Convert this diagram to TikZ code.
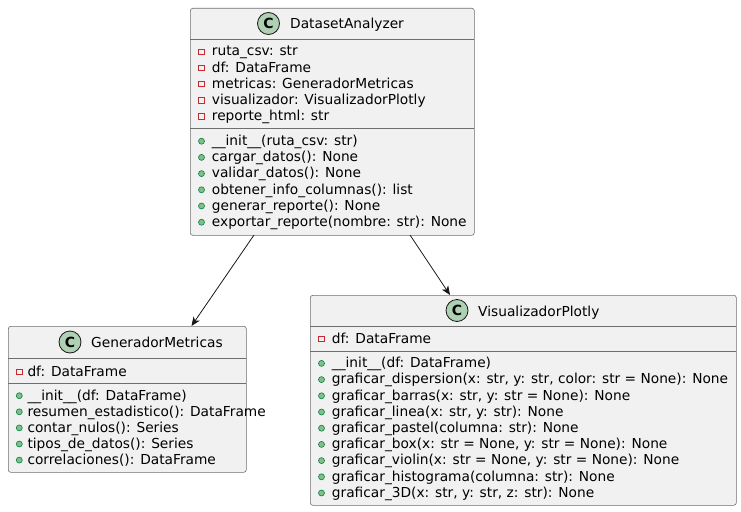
\documentclass[tikz,border=0pt]{standalone}
\usepackage{fontspec}
\setmainfont{DejaVu Sans}
\usetikzlibrary{arrows.meta}
\definecolor{boxfill}{HTML}{F1F1F1}
\definecolor{boxline}{HTML}{181818}
\definecolor{thinline}{HTML}{6E6E6E}
\definecolor{classcirc}{HTML}{ADD1B2}
\definecolor{privred}{HTML}{C82930}
\definecolor{pubfill}{HTML}{84BE84}
\definecolor{publine}{HTML}{038048}
\tikzset{
  classbox/.style={draw=thinline, fill=boxfill, line width=0.6pt, rounded corners=2.5pt, inner sep=0pt, anchor=north west},
  sepline/.style={draw=thinline, line width=0.6pt},
  member/.style={anchor=base west, inner sep=0pt, font=\fontsize{13.75}{16}\selectfont},
  privicon/.style={draw=privred, line width=0.8pt, minimum size=5.5pt, inner sep=0pt},
  pubicon/.style={circle, draw=publine, fill=pubfill, line width=0.6pt, minimum size=6pt, inner sep=0pt},
  classicon/.style={circle, draw=boxline, fill=classcirc, line width=0.8pt, minimum size=22pt, inner sep=0pt, font=\fontsize{14}{16}\selectfont\bfseries},
  assoc/.style={draw=boxline, line width=0.8pt, -{Stealth[length=9pt,width=7.5pt,inset=2.5pt]}}
}
\begin{document}
\begin{tikzpicture}[x=1pt, y=-1pt]
\useasboundingbox (0,0) rectangle (741,511);

% DatasetAnalyzer
\node[classbox, minimum width=284pt, minimum height=227pt] (da) at (190,8) {};
\node[classicon] (da-c) at (268.5,23.5) {C};
\node[member] (da-name) at (290,28.5) {DatasetAnalyzer};
\draw[sepline] (190,39) -- (474,39);
\draw[sepline] (190,128) -- (474,128);
\foreach \txt [count=\i from 0] in {{ruta\_csv: str}, {df: DataFrame}, {metricas: GeneradorMetricas}, {visualizador: VisualizadorPlotly}, {reporte\_html: str}}{
  \node[privicon] (da-ai\i) at (201.5, 51.7+16.2*\i) {};
  \node[member] (da-a\i) at (211.7, 56+16.2*\i) {\txt};
}
\foreach \txt [count=\i from 0] in {{\_\_init\_\_(ruta\_csv: str)}, {cargar\_datos(): None}, {validar\_datos(): None}, {obtener\_info\_columnas(): list}, {generar\_reporte(): None}, {exportar\_reporte(nombre: str): None}}{
  \node[pubicon] (da-mi\i) at (201.5, 141.2+16.2*\i) {};
  \node[member] (da-m\i) at (211.7, 145.5+16.2*\i) {\txt};
}

% GeneradorMetricas
\node[classbox, minimum width=238pt, minimum height=146pt] (gm) at (8,326) {};
\node[classicon] (gm-c) at (70,342) {C};
\node[member] (gm-name) at (91,347) {GeneradorMetricas};
\draw[sepline] (8,358) -- (246,358);
\draw[sepline] (8,383) -- (246,383);
\node[privicon] (gm-ai0) at (19.3,371.7) {};
\node[member] (gm-a0) at (27.3,376) {df: DataFrame};
\foreach \txt [count=\i from 0] in {{\_\_init\_\_(df: DataFrame)}, {resumen\_estadistico(): DataFrame}, {contar\_nulos(): Series}, {tipos\_de\_datos(): Series}, {correlaciones(): DataFrame}}{
  \node[pubicon] (gm-mi\i) at (19.3, 395.7+16.1*\i) {};
  \node[member] (gm-m\i) at (27.3, 400+16.1*\i) {\txt};
}

% VisualizadorPlotly
\node[classbox, minimum width=426pt, minimum height=210pt] (vp) at (310,295) {};
\node[classicon] (vp-c) at (457,310.5) {C};
\node[member] (vp-name) at (478,316) {VisualizadorPlotly};
\draw[sepline] (310,326) -- (736,326);
\draw[sepline] (310,351) -- (736,351);
\node[privicon] (vp-ai0) at (321.5,339) {};
\node[member] (vp-a0) at (331.7,343.3) {df: DataFrame};
\foreach \txt [count=\i from 0] in {{\_\_init\_\_(df: DataFrame)}, {graficar\_dispersion(x: str, y: str, color: str = None): None}, {graficar\_barras(x: str, y: str = None): None}, {graficar\_linea(x: str, y: str): None}, {graficar\_pastel(columna: str): None}, {graficar\_box(x: str = None, y: str = None): None}, {graficar\_violin(x: str = None, y: str = None): None}, {graficar\_histograma(columna: str): None}, {graficar\_3D(x: str, y: str, z: str): None}}{
  \node[pubicon] (vp-mi\i) at (321.5, 363.4+16.2*\i) {};
  \node[member] (vp-m\i) at (331.7, 367.7+16.2*\i) {\txt};
}

% associations
\coordinate (da-s1) at (254,235);
\coordinate (da-s2) at (410,235);
\coordinate (gm-n) at (191.5,326);
\coordinate (vp-n) at (450,295);
\draw[assoc] (da-s1) -- (gm-n);
\draw[assoc] (da-s2) -- (vp-n);
\end{tikzpicture}
\end{document}
